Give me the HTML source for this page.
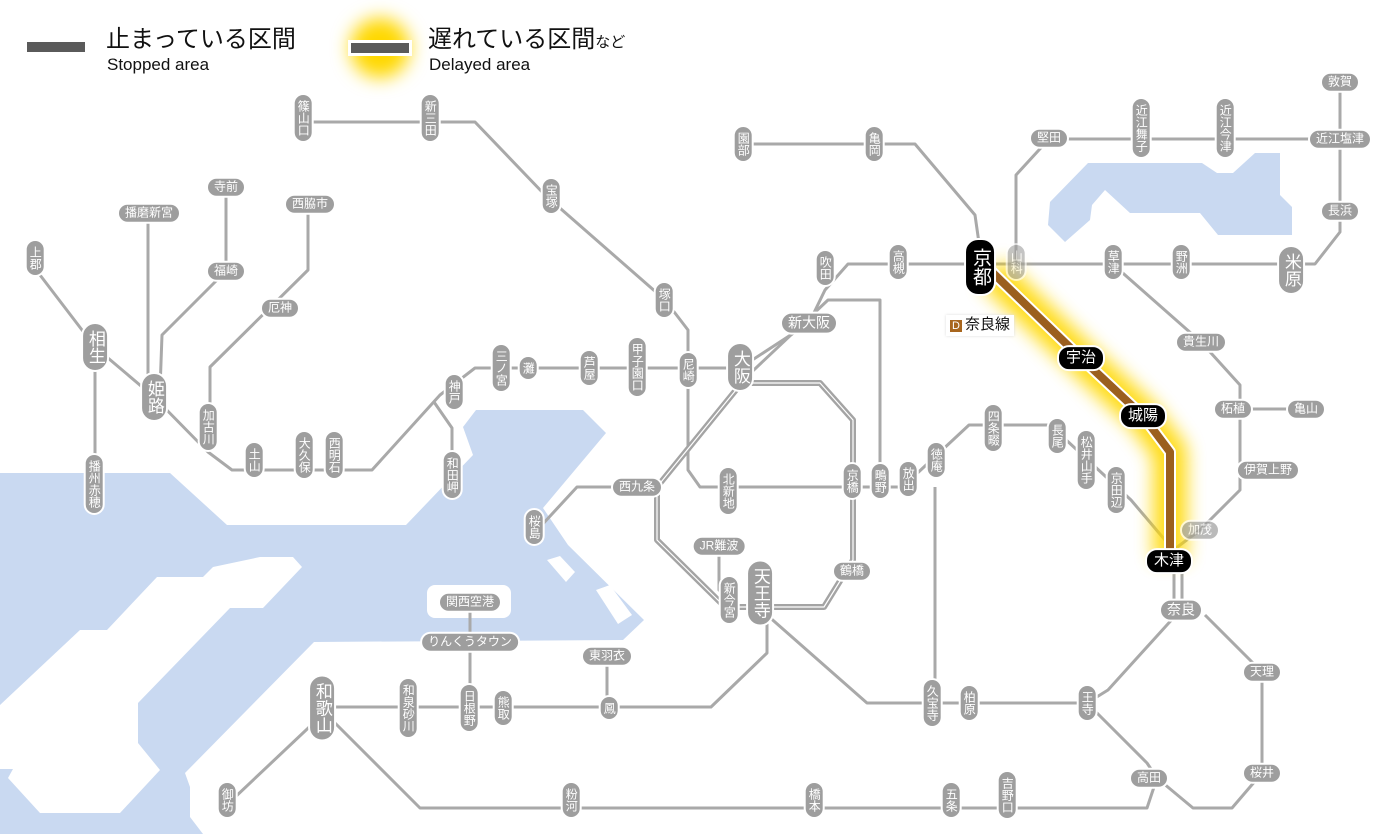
<!DOCTYPE html>
<html><head><meta charset="utf-8">
<style>
html,body{margin:0;padding:0;background:#fff}
#w{position:relative;width:1400px;height:834px;overflow:hidden;background:#fff;font-family:"Liberation Sans","Noto Sans CJK JP",sans-serif}
svg{position:absolute;left:0;top:0}
.s{position:absolute;transform:translate(-50%,-50%);background:#9e9e9e;color:#fff;border:2px solid #fff;border-radius:11px;font-size:12px;line-height:1.05;white-space:nowrap;font-family:"Liberation Sans","Noto Sans CJK JP",sans-serif}
.v{writing-mode:vertical-rl;padding:5px 2px}
.h{padding:2px 6px}
.b{font-size:17px;border-radius:14px}
.v.b{padding:6px 3px}
.k{background:#000;font-size:15px}
.h.k{padding:3px 7px;border-radius:12px}
.lg{position:absolute;color:#111;font-family:"Liberation Sans","Noto Sans CJK JP",sans-serif}
</style></head><body><div id="w">
<svg width="1400" height="834" viewBox="0 0 1400 834">
<defs>
<filter id="bl" x="-50%" y="-50%" width="200%" height="200%"><feGaussianBlur stdDeviation="9"/></filter>
</defs>
<!-- water -->
<g fill="#c9d9f1">
<path d="M0,473 L170,473 L227,525 L406,525 L473,455 L463,427 L476,410 L583,410 L606,433 L543,508 L568,545 L644,620 L623,640 L314,642 L185,773 L190,787 L190,817 L203,834 L0,834 Z"/>
<path d="M1050,202 L1088,163 L1202,163 L1217,173 L1233,173 L1255,153 L1280,153 L1280,195 L1292,207 L1292,235 L1218,235 L1200,213 L1130,213 L1105,190 L1092,205 L1090,220 L1065,242 L1048,225 Z"/>
</g>
<g fill="#fff">
<path d="M0,705 L80,630 L107,630 L157,577 L203,577 L213,567 L260,557 L293,557 L302,567 L263,608 L230,608 L138,703 L138,743 L160,770 L120,813 L40,813 L8,778 L13,769 L0,769 Z"/>
<rect x="427" y="585" width="84" height="33" rx="8"/>
<path d="M547,560 L560,556 L575,572 L566,582 Z"/>
<path d="M596,590 L610,585 L632,615 L618,624 Z"/>
<path d="M575,520 L592,500 L596,505 L580,528 Z"/>
</g>
<!-- lines -->
<g fill="none" stroke="#a9a9a9" stroke-width="3" stroke-linejoin="round">
<polyline points="303,122 475,122 545,195 665,300 688,330 688,470 700,487 910,487"/>
<polyline points="40,275 95,347 154,397 208,452 232,470 372,470 440,395 475,368 740,368"/>
<polyline points="434,402 452,428 452,475"/>
<polyline points="95,347 95,484"/>
<polyline points="148,213 148,390"/>
<polyline points="226,187 226,271 162,335 160,390"/>
<polyline points="308,204 308,270 210,367 210,430"/>
<polyline points="740,368 809,323 825,290 848,264 1315,264 1340,232 1340,82"/>
<polyline points="740,383 828,300 880,300 880,487"/>
<polyline points="1016,264 1016,175 1049,139 1340,139"/>
<polyline points="743,144 915,144 975,215 980,250"/>
<polyline points="540,527 577,487 650,487"/>
<polyline points="719,546 719,590 730,600"/>
<polyline points="767,610 767,653 711,707 322,707"/>
<polyline points="470,602 470,708"/>
<polyline points="607,656 607,708"/>
<polyline points="767,615 867,703 1087,703 1108,690 1176,615"/>
<polyline points="935,487 935,703"/>
<polyline points="910,480 969,425 1050,425 1131,500 1165,540"/>
<polyline points="1113,264 1125,275 1201,342 1240,385 1240,490 1200,530 1176,548"/>
<polyline points="1240,409 1306,409"/>
<polyline points="1174,565 1174,610"/><polyline points="1182,565 1182,610"/>
<polyline points="1205,615 1262,672 1262,773 1232,808 1193,808 1157,778"/>
<polyline points="1087,703 1147,763 1157,778 1147,808 420,808 332,720"/>
<polyline points="322,715 232,800"/>
</g>
<g fill="none" stroke="#a4a4a4" stroke-width="6" stroke-linejoin="round">
<polyline points="740,383 820,383 853,420 853,560 824,607 725,607 657,540 657,487 740,385"/>
</g>
<g fill="none" stroke="#fff" stroke-width="1.2" stroke-linejoin="round">
<polyline points="740,383 820,383 853,420 853,560 824,607 725,607 657,540 657,487 740,385"/>
</g>
<!-- delayed Nara line -->
<polyline points="992,272 1081,358 1143,416 1170,452 1170,561" fill="none" stroke="#ffd800" stroke-width="34" stroke-linejoin="round" filter="url(#bl)" opacity="0.9"/>
<polyline points="992,272 1081,358 1143,416 1170,452 1170,561" fill="none" stroke="#fff" stroke-width="12" stroke-linejoin="round"/>
<polyline points="992,272 1081,358 1143,416 1170,452 1170,561" fill="none" stroke="#9b5f1e" stroke-width="8" stroke-linejoin="round"/>
<!-- legend -->
<rect x="27" y="42" width="58" height="10" fill="#5a5a5a"/>
<circle cx="380" cy="48" r="30" fill="#ffd800" filter="url(#bl)"/>
<rect x="348" y="40" width="64" height="16" fill="#fff"/>
<rect x="351" y="43" width="58" height="10" fill="#5a5a5a"/>
</svg>

<div class="lg" style="left:106px;top:26px;font-size:24px;line-height:28px">止まっている区間</div>
<div class="lg" style="left:107px;top:55px;font-size:17px;line-height:20px">Stopped area</div>
<div class="lg" style="left:428px;top:26px;font-size:24px;line-height:28px">遅れている区間<span style="font-size:15px">など</span></div>
<div class="lg" style="left:429px;top:55px;font-size:17px;line-height:20px">Delayed area</div>

<div class="lg" style="left:946px;top:315px;font-size:15px;line-height:18px;background:#fff;padding:1px 4px;box-shadow:0 0 3px #ddd"><span style="background:#a8661e;color:#fff;font-size:11px;padding:0 2px;margin-right:3px">D</span>奈良線</div>

<!-- vertical stations -->
<div class="s v" style="left:303px;top:118px">篠山口</div>
<div class="s v" style="left:430px;top:118px">新三田</div>
<div class="s v" style="left:551px;top:196px">宝塚</div>
<div class="s v" style="left:664px;top:300px">塚口</div>
<div class="s v" style="left:688px;top:370px">尼崎</div>
<div class="s v" style="left:637px;top:367px">甲子園口</div>
<div class="s v" style="left:589px;top:368px">芦屋</div>
<div class="s v" style="left:528px;top:368px">灘</div>
<div class="s v" style="left:501px;top:368px">三ノ宮</div>
<div class="s v" style="left:454px;top:392px">神戸</div>
<div class="s v" style="left:452px;top:475px">和田岬</div>
<div class="s v" style="left:334px;top:455px">西明石</div>
<div class="s v" style="left:304px;top:455px">大久保</div>
<div class="s v" style="left:254px;top:460px">土山</div>
<div class="s v" style="left:208px;top:427px">加古川</div>
<div class="s v b" style="left:154px;top:397px">姫路</div>
<div class="s v b" style="left:95px;top:347px">相生</div>
<div class="s v" style="left:35px;top:258px">上郡</div>
<div class="s v" style="left:94px;top:484px">播州赤穂</div>
<div class="s v b" style="left:740px;top:367px">大阪</div>
<div class="s v" style="left:534px;top:527px">桜島</div>
<div class="s v" style="left:728px;top:491px">北新地</div>
<div class="s v" style="left:852px;top:481px">京橋</div>
<div class="s v" style="left:880px;top:481px">鴫野</div>
<div class="s v" style="left:908px;top:479px">放出</div>
<div class="s v" style="left:936px;top:460px">徳庵</div>
<div class="s v" style="left:993px;top:428px">四条畷</div>
<div class="s v" style="left:1057px;top:436px">長尾</div>
<div class="s v" style="left:1086px;top:460px">松井山手</div>
<div class="s v" style="left:1116px;top:490px">京田辺</div>
<div class="s v" style="left:729px;top:600px">新今宮</div>
<div class="s v b" style="left:760px;top:593px">天王寺</div>
<div class="s v" style="left:825px;top:268px">吹田</div>
<div class="s v" style="left:898px;top:262px">高槻</div>
<div class="s v" style="left:1016px;top:262px;opacity:.6">山科</div>
<div class="s v b k" style="left:980px;top:267px;padding:8px 4px;font-size:19px">京都</div>
<div class="s v" style="left:1113px;top:262px">草津</div>
<div class="s v" style="left:1181px;top:262px">野洲</div>
<div class="s v b" style="left:1291px;top:270px">米原</div>
<div class="s v" style="left:743px;top:144px">園部</div>
<div class="s v" style="left:874px;top:144px">亀岡</div>
<div class="s v" style="left:1141px;top:128px">近江舞子</div>
<div class="s v" style="left:1225px;top:128px">近江今津</div>
<div class="s v" style="left:932px;top:703px">久宝寺</div>
<div class="s v" style="left:969px;top:703px">柏原</div>
<div class="s v" style="left:1087px;top:703px">王寺</div>
<div class="s v b" style="left:322px;top:708px">和歌山</div>
<div class="s v" style="left:408px;top:708px">和泉砂川</div>
<div class="s v" style="left:469px;top:708px">日根野</div>
<div class="s v" style="left:503px;top:708px">熊取</div>
<div class="s v" style="left:609px;top:708px">鳳</div>
<div class="s v" style="left:227px;top:800px">御坊</div>
<div class="s v" style="left:571px;top:800px">粉河</div>
<div class="s v" style="left:814px;top:800px">橋本</div>
<div class="s v" style="left:951px;top:800px">五条</div>
<div class="s v" style="left:1007px;top:795px">吉野口</div>

<!-- horizontal stations -->
<div class="s h" style="left:226px;top:187px">寺前</div>
<div class="s h" style="left:149px;top:213px">播磨新宮</div>
<div class="s h" style="left:310px;top:204px">西脇市</div>
<div class="s h" style="left:226px;top:271px">福崎</div>
<div class="s h" style="left:280px;top:308px">厄神</div>
<div class="s h b" style="left:809px;top:323px;font-size:14px">新大阪</div>
<div class="s h" style="left:637px;top:487px">西九条</div>
<div class="s h" style="left:719px;top:546px">JR難波</div>
<div class="s h" style="left:852px;top:571px">鶴橋</div>
<div class="s h" style="left:470px;top:602px">関西空港</div>
<div class="s h" style="left:470px;top:642px">りんくうタウン</div>
<div class="s h" style="left:607px;top:656px">東羽衣</div>
<div class="s h b" style="left:1181px;top:610px;font-size:14px">奈良</div>
<div class="s h" style="left:1262px;top:672px">天理</div>
<div class="s h" style="left:1262px;top:773px">桜井</div>
<div class="s h" style="left:1149px;top:778px">高田</div>
<div class="s h" style="left:1049px;top:138px">堅田</div>
<div class="s h" style="left:1340px;top:139px">近江塩津</div>
<div class="s h" style="left:1340px;top:82px">敦賀</div>
<div class="s h" style="left:1340px;top:211px">長浜</div>
<div class="s h" style="left:1201px;top:342px">貴生川</div>
<div class="s h" style="left:1233px;top:409px">柘植</div>
<div class="s h" style="left:1306px;top:409px">亀山</div>
<div class="s h" style="left:1268px;top:470px">伊賀上野</div>
<div class="s h" style="left:1200px;top:530px;opacity:.7">加茂</div>
<div class="s h k" style="left:1081px;top:358px">宇治</div>
<div class="s h k" style="left:1143px;top:416px">城陽</div>
<div class="s h k" style="left:1169px;top:561px">木津</div>
</div></body></html>
